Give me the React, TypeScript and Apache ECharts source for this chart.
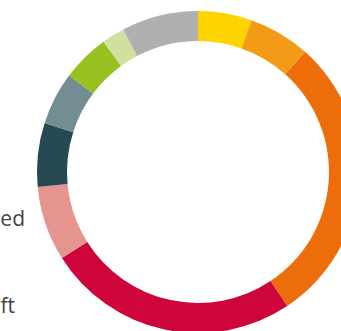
import React, { useEffect, useRef } from "react";
import * as echarts from "echarts";

const categories = ["A", "B", "C", "D", "E", "F", "G", "H", "I", "J"];
const values = [5.4, 6.2, 29.1, 25.4, 7.5, 6.4, 5.3, 4.8, 2.3, 7.7];
const colors = [
  "#FDD300",
  "#F39A17",
  "#EC6D0A",
  "#CD053A",
  "#E59490",
  "#254A51",
  "#748D92",
  "#97C020",
  "#CFE09F",
  "#B0B0B0",
];
const visibleLabels = ["ed", "ft"];

export default function App() {
  const ref = useRef<HTMLDivElement>(null);
  useEffect(() => {
    document.body.style.margin = "0";
    const chart = echarts.init(ref.current!, undefined, { renderer: "svg" });
    chart.setOption({
      animation: false,
      backgroundColor: "#ffffff",
      series: [
        {
          type: "pie",
          center: [198, 172],
          radius: [131, 161],
          startAngle: 90,
          clockwise: true,
          label: { show: false },
          labelLine: { show: false },
          emphasis: { disabled: true },
          itemStyle: { borderWidth: 0 },
          data: categories.map((c, i) => ({
            name: c,
            value: values[i],
            itemStyle: { color: colors[i] },
          })),
        },
      ],
      graphic: [
        {
          type: "text",
          style: {
            text: visibleLabels[0],
            x: 25,
            y: 218,
            textAlign: "right",
            textVerticalAlign: "middle",
            fontFamily: "Open Sans",
            fontSize: 21,
            fill: "#444444",
          },
        },
        {
          type: "text",
          style: {
            text: visibleLabels[1],
            x: 15,
            y: 305,
            textAlign: "right",
            textVerticalAlign: "middle",
            fontFamily: "Open Sans",
            fontSize: 21,
            fill: "#444444",
          },
        },
      ],
    });
    return () => chart.dispose();
  }, []);
  return <div ref={ref} style={{ width: 341, height: 331 }} />;
}
